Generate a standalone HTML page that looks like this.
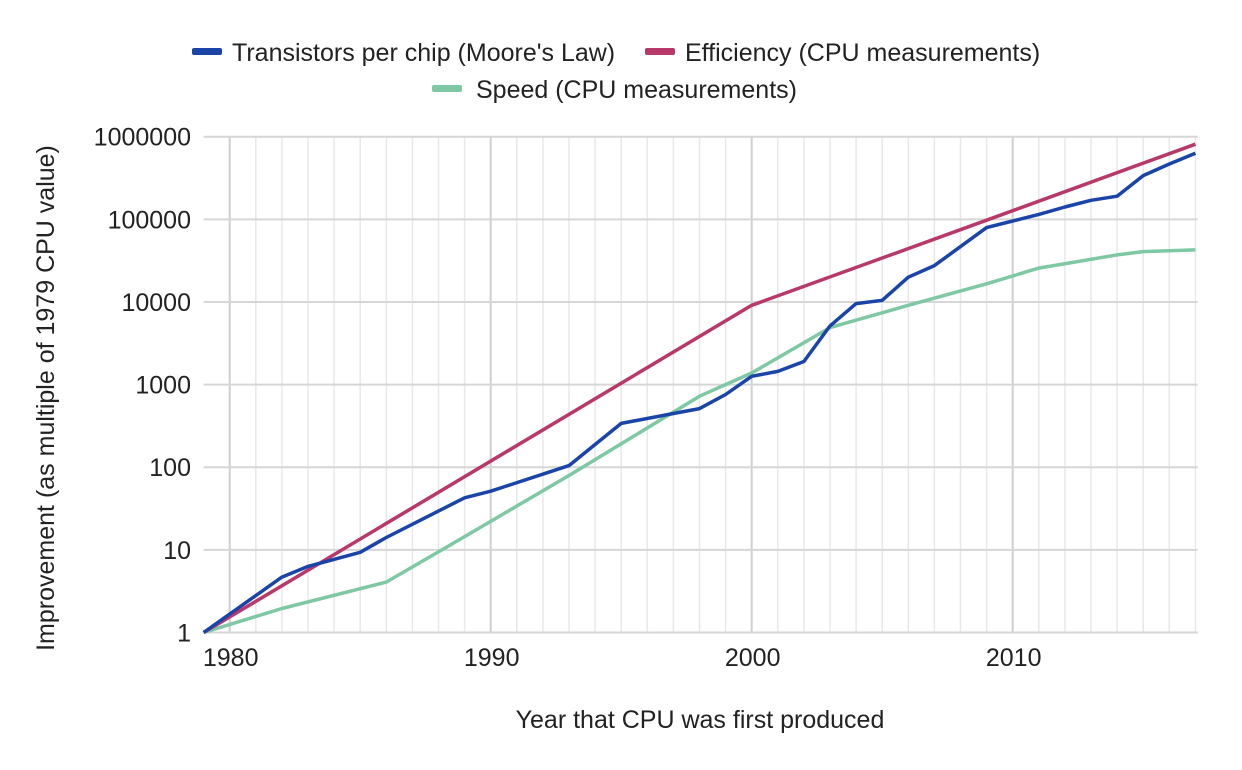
<!DOCTYPE html>
<html><head><meta charset="utf-8"><style>
body{margin:0;background:#fff;}
svg{display:block;font-family:"Liberation Sans",Arial,sans-serif;}
</style></head><body>
<svg id="chart" width="1242" height="770">
<g id="grid"></g>
<g id="axes"></g>
<g id="series"></g>
<g font-size="25" fill="#222">
 <g><rect x="192" y="48" width="30" height="7" rx="2" fill="#1a44a8"/><text x="232" y="61">Transistors per chip (Moore's Law)</text></g>
 <g><rect x="645" y="48" width="30" height="7" rx="2" fill="#b9386a"/><text x="685" y="61">Efficiency (CPU measurements)</text></g>
 <g><rect x="432" y="85" width="30" height="7" rx="2" fill="#7ec8a4"/><text x="476" y="98">Speed (CPU measurements)</text></g>
</g>
<text x="0" y="0" font-size="25" fill="#222" text-anchor="middle" transform="translate(54,398) rotate(-90)">Improvement (as multiple of 1979 CPU value)</text>
<text x="700" y="728" font-size="25" fill="#222" text-anchor="middle">Year that CPU was first produced</text>
</svg>
<script>
const transYears=[1979,1982,1983,1985,1986,1989,1990,1993,1995,1997,1998,1999,2000,2001,2002,2003,2004,2005,2006,2007,2008,2009,2010,2011,2012,2013,2014,2015,2016,2017];
const transLog=[0,0.67,0.80,0.97,1.15,1.63,1.71,2.02,2.53,2.65,2.71,2.88,3.10,3.16,3.28,3.71,3.98,4.02,4.30,4.44,4.67,4.90,4.98,5.06,5.15,5.23,5.28,5.53,5.67,5.80];
const effYears=[1979,2000,2009,2017];
const effLog=[0,3.96,4.99,5.91];
const speedYears=[1979,1982,1986,1989,1993,1998,2000,2003,2006,2009,2011,2014,2015,2017];
const speedLog=[0,0.29,0.61,1.16,1.90,2.86,3.14,3.69,3.96,4.22,4.41,4.57,4.61,4.63];
const yTicks=["1","10","100","1000","10000","100000","1000000"];
const xTicks=[1980,1990,2000,2010];
const NS="http://www.w3.org/2000/svg";
const X0=203.6,PX=26.1,YB=632.5,DEC=82.63,XR=1197.7,YT=136.7;
const xs=y=>X0+(y-1979)*PX, ys=l=>YB-l*DEC;
function mk(tag,attrs,parent){const e=document.createElementNS(NS,tag);for(const k in attrs)e.setAttribute(k,attrs[k]);parent.appendChild(e);return e;}
const grid=document.getElementById('grid'),axes=document.getElementById('axes'),ser=document.getElementById('series');
for(let yr=1980;yr<=2017;yr++){
 const major=yr%10===0;
 const l=mk('line',{x1:xs(yr),x2:xs(yr),y1:YT,y2:YB,stroke:major?'#cfcfcf':'#e8e8e8','stroke-width':major?2:1.5},grid);
 
 
}
yTicks.forEach((t,i)=>{
 const l=mk('line',{x1:X0,x2:XR,y1:ys(i),y2:ys(i),stroke:'#d6d6d6','stroke-width':2},grid);
 
 
 const tx=mk('text',{x:191,y:ys(i)+9,'font-size':25,fill:'#222','text-anchor':'end'},axes);
 tx.textContent=t;
 
 
});
xTicks.forEach(t=>{
 const tx=mk('text',{x:xs(t)+1,y:666,'font-size':25,fill:'#222','text-anchor':'middle'},axes);
 tx.textContent=t;
 
 
});
function line(yrs,vals,color,name){
 const d=yrs.map((y,i)=>(i?'L':'M')+xs(y).toFixed(1)+','+ys(vals[i]).toFixed(1)).join('');
 const p=mk('path',{d:d,fill:'none',stroke:color,'stroke-width':3.5,'stroke-linejoin':'round'},ser);
 
 
}
line(speedYears,speedLog,'#7ec8a4','speed-line');
line(effYears,effLog,'#b9386a','efficiency-line');
line(transYears,transLog,'#1a44a8','transistors-line');
</script>
</body></html>
